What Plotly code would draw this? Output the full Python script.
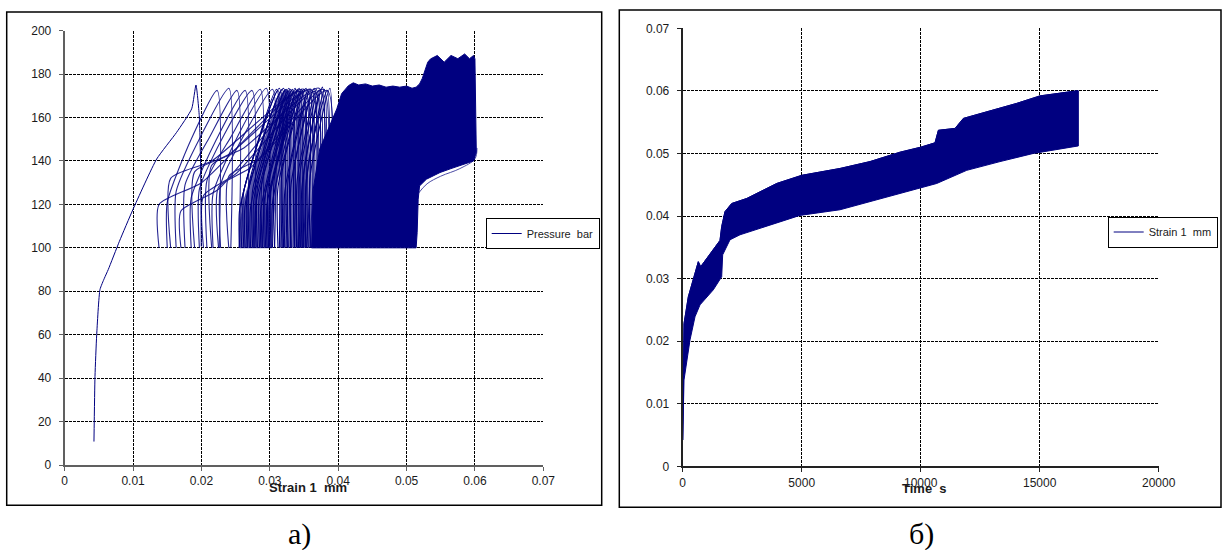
import plotly.graph_objects as go

NAVY = "#000080"
P_MIN = 100  # lower pressure of every cycle (bar)

# ---------------- panel а): Pressure vs Strain ----------------
init_strain = [0.00428, 0.00443, 0.00468, 0.00516, 0.0058, 0.00637, 0.0080, 0.0100,
               0.01345, 0.01637, 0.01857, 0.0192, 0.01968, 0.01988, 0.01997]
init_pressure = [10.8, 40.8, 60, 80.8, 86, 90, 103, 117.8,
                 140.9, 153.2, 164, 175, 160.9, 137.8, 100.6]

# steep loading cycles (clearly separated peaks)
steep_start = [0.0150, 0.0163, 0.0176, 0.0185, 0.0197, 0.0208, 0.0217, 0.0228]
steep_knee = [121, 126, 129, 123, 127, 131, 125, 129]
steep_mid_x = [0.0185, 0.0200, 0.0212, 0.0222, 0.0233, 0.0243, 0.0254, 0.0264]
steep_mid_p = [150, 152, 151, 150, 152, 151, 152, 153]
steep_peak_x = [0.0223, 0.0240, 0.0252, 0.0264, 0.0274, 0.0286, 0.0295, 0.0304]
steep_peak_p = [172.5, 173.5, 172.5, 172.5, 172.5, 173, 173.5, 173]
steep_end = [0.0226, 0.0243, 0.0255, 0.0267, 0.0277, 0.0289, 0.0298, 0.0307]

# shallow loading cycles (long diagonals to the right)
shal_start = [0.0138, 0.0155, 0.0170, 0.0190, 0.0203, 0.0215, 0.0225, 0.0240]
shal_knee = [120, 132, 117, 135, 124, 138, 128, 133]
shal_mid_x = [0.0200, 0.0215, 0.0225, 0.0240, 0.0250, 0.0262, 0.0272, 0.0285]
shal_mid_p = [130, 140, 127, 143, 134, 146, 137, 141]
shal_peak_x = [0.0345, 0.0350, 0.0355, 0.0360, 0.0366, 0.0372, 0.0378, 0.0384]
shal_peak_p = [172, 173, 172.5, 173, 172, 173.5, 173, 172.5]
shal_end = [0.0349, 0.0354, 0.0359, 0.0364, 0.0370, 0.0376, 0.0382, 0.0388]

# dense band of cycles
dense_start = [0.0256, 0.0259, 0.0262, 0.0264, 0.0267, 0.0270, 0.0272, 0.0275, 0.0277,
               0.0280, 0.0282, 0.0285, 0.0287, 0.0289, 0.0292, 0.0294, 0.0296, 0.0298,
               0.0300, 0.0302, 0.0304, 0.0307, 0.0312, 0.0318, 0.0322, 0.0327, 0.0331,
               0.0336, 0.0340, 0.0344, 0.0347, 0.0350, 0.0353, 0.0356, 0.0359]
dense_knee = [118, 122, 126, 120, 124, 130, 119, 127, 123, 121, 128, 125, 118, 131, 122,
              126, 120, 129, 124, 127, 121, 133, 128, 135, 126, 132, 129, 137, 131, 134,
              128, 136, 130, 138, 133]
dense_peak_x = [0.0310, 0.0312, 0.0314, 0.0316, 0.0318, 0.0320, 0.0322, 0.0324, 0.0326,
                0.0328, 0.0330, 0.0332, 0.0333, 0.0335, 0.0337, 0.0338, 0.0340, 0.0341,
                0.0343, 0.0344, 0.0346, 0.0348, 0.0350, 0.0353, 0.0356, 0.0359, 0.0362,
                0.0365, 0.0368, 0.0371, 0.0374, 0.0377, 0.0380, 0.0384, 0.0388]
dense_peak_p = [173, 172.5, 173.5, 172, 173, 173.5, 172.5, 173, 172, 173.5, 173, 172.5,
                173, 172, 173.5, 173, 172.5, 173, 173.5, 172, 173, 172.5, 173, 173.5,
                172.5, 173, 172, 173.5, 173, 172.5, 173, 174, 173, 172.5, 173.5]
dense_end = [0.0314, 0.0316, 0.0318, 0.0320, 0.0322, 0.0324, 0.0326, 0.0328, 0.0330,
             0.0332, 0.0334, 0.0336, 0.0337, 0.0339, 0.0341, 0.0342, 0.0344, 0.0345,
             0.0347, 0.0348, 0.0350, 0.0352, 0.0354, 0.0357, 0.0360, 0.0363, 0.0366,
             0.0369, 0.0372, 0.0375, 0.0378, 0.0381, 0.0384, 0.0388, 0.0392]

# outline of the darkest part of the dense band (heavily overlapped cycles)
band_strain = [0.0256, 0.0257, 0.0262, 0.0272, 0.0285, 0.0298, 0.0310, 0.0322, 0.0330,
               0.0326, 0.0318, 0.0310, 0.0305, 0.0303, 0.0256]
band_pressure = [100, 112, 122, 132, 143, 155, 167, 173, 172,
                 160, 145, 128, 112, 100, 100]

# outline of the saturated (fully overlapped) cycle region
region_strain = [0.0361, 0.03635, 0.0373, 0.0390, 0.0398, 0.0405, 0.0415, 0.0422, 0.0430,
                 0.0440, 0.0450, 0.0460, 0.0470, 0.0480, 0.0490, 0.0500, 0.0508, 0.0514,
                 0.0519, 0.0523, 0.0527, 0.0531, 0.0535, 0.0545, 0.0555, 0.0565, 0.0575,
                 0.0585, 0.0592, 0.0598, 0.0600, 0.0601, 0.0602, 0.0598, 0.0588, 0.0578,
                 0.0565, 0.0549, 0.0538, 0.0529, 0.0519, 0.0517, 0.05155, 0.0514, 0.0361]
region_pressure = [100, 127, 145.5, 157.8, 164, 171, 174.7, 176, 175,
                   175.5, 174.5, 175, 174, 174.5, 174, 174.5, 173.5, 174,
                   175.5, 178, 182, 185.5, 187, 188.6, 185.5, 188.6, 187.1,
                   189.3, 187.1, 188.6, 187, 160, 144, 140, 139, 137.8,
                   136.5, 134.7, 133, 131.6, 128.5, 122.4, 107, 100, 100]
edge_strain = [0.0517, 0.0530, 0.0550, 0.0578, 0.0600, 0.0603]
edge_pressure = [125, 129.5, 133, 136.5, 141, 146]

# ---------------- panel б): Strain vs Time ----------------
upper_time = [0, 55, 237, 446, 656, 756, 1147, 1567, 1638, 1777, 2059, 2689, 3950, 5000,
              6610, 7870, 9131, 10000, 10602, 10742, 11443, 11793, 14035, 15014, 16556, 16623]
upper_strain = [0.0042, 0.0228, 0.0271, 0.0298, 0.0327, 0.0319, 0.0340, 0.0361, 0.0383,
                0.0407, 0.0420, 0.0428, 0.0452, 0.0465, 0.0476, 0.0487, 0.0502, 0.0510,
                0.0517, 0.0537, 0.0540, 0.0556, 0.0580, 0.0592, 0.0600, 0.0600]
lower_time = [0, 55, 307, 517, 727, 1286, 1638, 1680, 1988, 2408, 3668, 4929, 6610, 7870,
              9131, 10673, 11934, 13333, 14732, 16623]
lower_strain = [0.0042, 0.0138, 0.0202, 0.0239, 0.0258, 0.0282, 0.0303, 0.0338, 0.0362,
                0.0370, 0.0385, 0.0401, 0.0410, 0.0423, 0.0436, 0.0452, 0.0473, 0.0487,
                0.0500, 0.0512]


def loop_path(start, knee, peak_x, peak_p, end, mid_x=None, mid_p=None):
    xs, ys = [], []
    for i in range(len(start)):
        xs += [start[i], start[i]]
        ys += [P_MIN, knee[i]]
        if mid_x is not None:
            xs.append(mid_x[i])
            ys.append(mid_p[i])
        xs += [peak_x[i], end[i], None]
        ys += [peak_p[i], P_MIN, None]
    return xs, ys


fig = go.Figure()

fig.add_trace(go.Scatter(x=region_strain, y=region_pressure, mode="lines", fill="toself",
                         fillcolor=NAVY, line=dict(color=NAVY, width=1),
                         showlegend=False, hoverinfo="skip", xaxis="x", yaxis="y"))
fig.add_trace(go.Scatter(x=band_strain, y=band_pressure, mode="lines", fill="toself",
                         fillcolor="rgba(0,0,128,0.7)", line=dict(color=NAVY, width=0.5),
                         opacity=0.9, showlegend=False, hoverinfo="skip", xaxis="x", yaxis="y"))
for args, op in [((dense_start, dense_knee, dense_peak_x, dense_peak_p, dense_end), 1.0),
                 ((steep_start, steep_knee, steep_peak_x, steep_peak_p, steep_end,
                   steep_mid_x, steep_mid_p), 0.85),
                 ((shal_start, shal_knee, shal_peak_x, shal_peak_p, shal_end,
                   shal_mid_x, shal_mid_p), 0.85)]:
    lx, ly = loop_path(*args)
    fig.add_trace(go.Scatter(x=lx, y=ly, mode="lines",
                             line=dict(color=NAVY, width=1.1, shape="spline", smoothing=0.6),
                             opacity=op, showlegend=False, hoverinfo="skip",
                             xaxis="x", yaxis="y"))
fig.add_trace(go.Scatter(x=edge_strain, y=edge_pressure, mode="lines",
                         line=dict(color=NAVY, width=1, shape="spline"), opacity=0.7,
                         showlegend=False, xaxis="x", yaxis="y"))
fig.add_trace(go.Scatter(x=init_strain, y=init_pressure, mode="lines",
                         line=dict(color=NAVY, width=1, shape="spline", smoothing=0.5),
                         name="Pressure\u00a0 bar", legend="legend", xaxis="x", yaxis="y"))

# panel б)
band_t = upper_time + lower_time[::-1]
band_s = upper_strain + lower_strain[::-1]
fig.add_trace(go.Scatter(x=band_t, y=band_s, mode="lines", fill="toself", fillcolor=NAVY,
                         line=dict(color=NAVY, width=1), showlegend=False,
                         hoverinfo="skip", xaxis="x2", yaxis="y2"))
fig.add_trace(go.Scatter(x=upper_time, y=upper_strain, mode="lines",
                         line=dict(color=NAVY, width=1), name="Strain 1\u00a0 mm",
                         legend="legend2", xaxis="x2", yaxis="y2"))

W, H = 1227, 550
FONT = "Arial, Liberation Sans, sans-serif"
tickfont = dict(family=FONT, size=12, color="#1a1a1a")


def ax(domain, rng, dtick, anchor, linecolor, **kw):
    d = dict(domain=domain, range=rng, dtick=dtick, tick0=0, anchor=anchor,
             showgrid=True, gridcolor="black", gridwidth=1, griddash="3px,1px",
             showline=True, linecolor=linecolor, linewidth=2, ticks="outside",
             ticklen=4, tickcolor=linecolor, tickfont=tickfont, zeroline=False,
             fixedrange=True, automargin=False)
    d.update(kw)
    return d


def legend_box(x, y):
    return dict(x=x, y=y, xanchor="left", yanchor="top", bgcolor="white",
                bordercolor="black", borderwidth=1, itemwidth=30,
                font=dict(family=FONT, size=11, color="#1a1a1a"))


fig.update_layout(
    width=W, height=H, margin=dict(l=0, r=0, t=0, b=0, pad=0), autosize=False,
    paper_bgcolor="white", plot_bgcolor="white",
    xaxis=ax([64.7 / W, 543.3 / W], [0, 0.07], 0.01, "y", "#606060"),
    yaxis=ax([1 - 465 / H, 1 - 30.7 / H], [0, 200], 20, "x", "#606060", ticklabelstandoff=5),
    xaxis2=ax([682.7 / W, 1158.7 / W], [0, 20000], 5000, "y2", "#222222", tickformat="d"),
    yaxis2=ax([1 - 466.3 / H, 1 - 28.3 / H], [0, 0.07], 0.01, "x2", "#222222", ticklabelstandoff=5),
    legend=legend_box(485.7 / W, 1 - 218 / H),
    legend2=legend_box(1107.7 / W, 1 - 216.5 / H),
    shapes=[
        dict(type="rect", xref="paper", yref="paper", x0=6.7 / W, x1=601.7 / W,
             y0=1 - 505.3 / H, y1=1 - 12 / H, line=dict(color="black", width=1.5)),
        dict(type="rect", xref="paper", yref="paper", x0=619.3 / W, x1=1221 / W,
             y0=1 - 507.3 / H, y1=1 - 10 / H, line=dict(color="black", width=1.5)),
    ],
    annotations=[
        dict(text="<b>Strain 1\u00a0 mm</b>", xref="paper", yref="paper", x=307.6 / W,
             y=1 - 487 / H, xanchor="center", yanchor="middle", showarrow=False,
             font=dict(family=FONT, size=13, color="#1a1a1a")),
        dict(text="<b>Time\u00a0 s</b>", xref="paper", yref="paper", x=924 / W,
             y=1 - 488 / H, xanchor="center", yanchor="middle", showarrow=False,
             font=dict(family=FONT, size=13, color="#1a1a1a")),
        dict(text="а)", xref="paper", yref="paper", x=299 / W, y=1 - 534 / H,
             xanchor="center", yanchor="middle", showarrow=False,
             font=dict(family="Liberation Serif, Times New Roman, serif", size=30, color="black")),
        dict(text="б)", xref="paper", yref="paper", x=921 / W, y=1 - 534 / H,
             xanchor="center", yanchor="middle", showarrow=False,
             font=dict(family="Liberation Serif, Times New Roman, serif", size=30, color="black")),
    ],
)

fig.write_html("out.html", config={"displayModeBar": False},
               post_script="document.body.style.margin='0';document.body.style.overflow='hidden';")
